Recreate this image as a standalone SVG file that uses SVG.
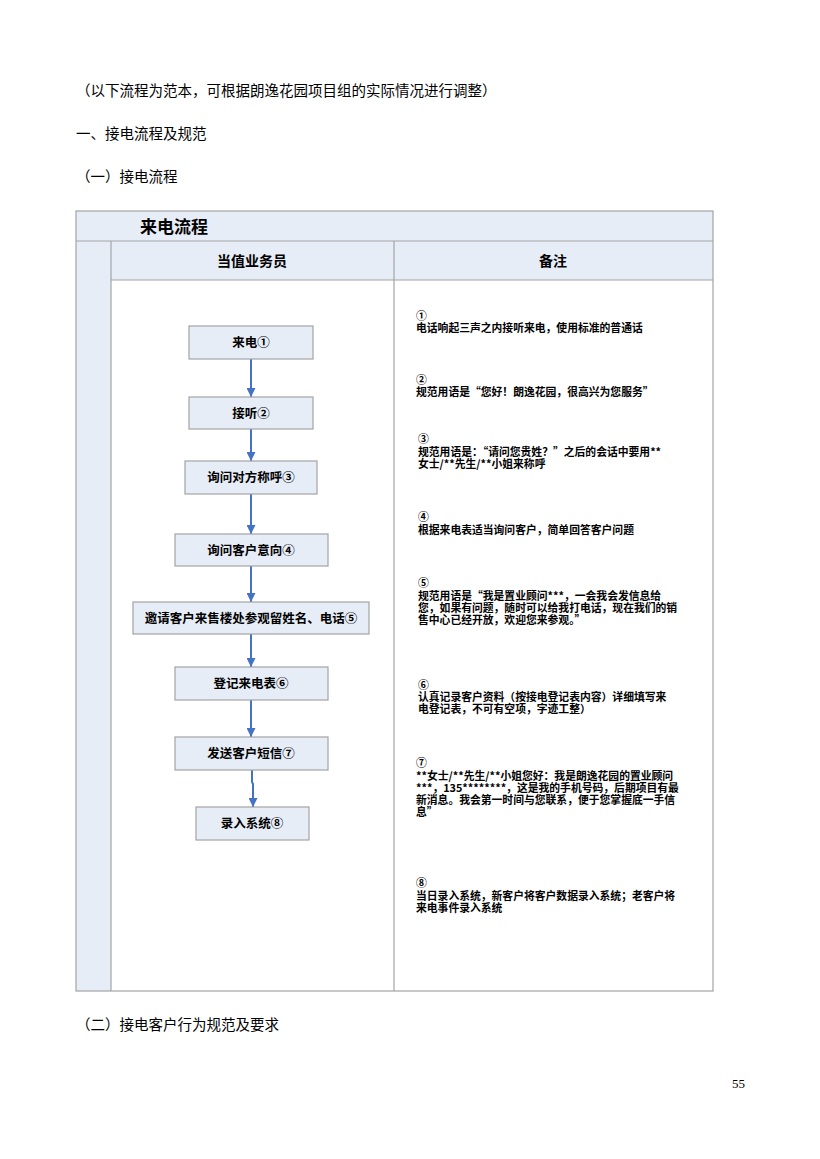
<svg xmlns="http://www.w3.org/2000/svg" width="820" height="1159" viewBox="0 0 820 1159">
<style>
.page{font-family:"Noto Sans CJK SC","Noto Sans CJK JP",sans-serif;font-size:14.5px;fill:#000}
.cell{fill:#E7EDF7;stroke:none}
.grid{stroke:#A3A3A3;stroke-width:1.2;fill:none}
.ttl{font-family:"Noto Sans CJK SC",sans-serif;font-weight:bold;font-size:17px;fill:#000}
.hdr{font-family:"Noto Sans CJK SC",sans-serif;font-weight:bold;font-size:14px;fill:#000;text-anchor:middle}
.box{fill:#E7EDF7;stroke:#A3A3A3;stroke-width:1.2}
.lbl{font-family:"Noto Sans CJK SC",sans-serif;font-weight:bold;font-size:12.5px;fill:#000;text-anchor:middle}
.note{font-family:"Noto Sans CJK SC",sans-serif;font-weight:bold;font-size:10.8px;fill:#000}
.arr{stroke:#4472C4;stroke-width:2;fill:none}
</style>
<defs>
<marker id="ah" viewBox="0 0 10 10" refX="10" refY="5" markerWidth="9" markerHeight="9" markerUnits="userSpaceOnUse" orient="auto">
<path d="M0,0 L10,5 L0,10 z" fill="#4472C4"/>
</marker>
</defs>
<rect width="820" height="1159" fill="#fff"/>

<text class="page" x="76" y="96">（以下流程为范本，可根据朗逸花园项目组的实际情况进行调整）</text>
<text class="page" x="76" y="139">一、接电流程及规范</text>
<text class="page" x="76" y="182">（一）接电流程</text>

<g id="table">
<rect class="cell" x="76" y="211" width="637" height="30"/>
<rect class="cell" x="76" y="241" width="35" height="750"/>
<rect class="cell" x="111" y="241" width="602" height="39"/>
<rect class="grid" x="76" y="211" width="637" height="780"/>
<line class="grid" x1="76" y1="241" x2="713" y2="241"/>
<line class="grid" x1="111" y1="280" x2="713" y2="280"/>
<line class="grid" x1="111" y1="241" x2="111" y2="991"/>
<line class="grid" x1="394" y1="241" x2="394" y2="991"/>
<text class="ttl" x="140" y="233">来电流程</text>
<text class="hdr" x="252" y="266">当值业务员</text>
<text class="hdr" x="553" y="266">备注</text>
</g>

<g id="connectors">
<line class="arr" x1="251" y1="359" x2="251" y2="397" marker-end="url(#ah)"/>
<line class="arr" x1="251" y1="429" x2="251" y2="461" marker-end="url(#ah)"/>
<line class="arr" x1="251" y1="494" x2="251" y2="534" marker-end="url(#ah)"/>
<line class="arr" x1="251" y1="566" x2="251" y2="602" marker-end="url(#ah)"/>
<line class="arr" x1="251" y1="634" x2="251" y2="667" marker-end="url(#ah)"/>
<line class="arr" x1="251" y1="700" x2="251" y2="737" marker-end="url(#ah)"/>
<path class="arr" d="M252,770 L252,782 L253,784 L253,807" marker-end="url(#ah)"/>
</g>

<g id="n1"><rect class="box" x="189" y="326" width="124" height="33"/><text class="lbl" x="251" y="347">来电①</text></g>
<g id="n2"><rect class="box" x="189" y="397" width="124" height="32"/><text class="lbl" x="251" y="417.5">接听②</text></g>
<g id="n3"><rect class="box" x="185" y="461" width="132" height="33"/><text class="lbl" x="251" y="482">询问对方称呼③</text></g>
<g id="n4"><rect class="box" x="175" y="534" width="153" height="32"/><text class="lbl" x="251" y="554.5">询问客户意向④</text></g>
<g id="n5"><rect class="box" x="133" y="602" width="236" height="32"/><text class="lbl" x="251" y="622.5">邀请客户来售楼处参观留姓名、电话⑤</text></g>
<g id="n6"><rect class="box" x="175" y="667" width="153" height="33"/><text class="lbl" x="251" y="688">登记来电表⑥</text></g>
<g id="n7"><rect class="box" x="175" y="737" width="153" height="33"/><text class="lbl" x="251" y="758">发送客户短信⑦</text></g>
<g id="n8"><rect class="box" x="196" y="807" width="113" height="33"/><text class="lbl" x="252" y="828">录入系统⑧</text></g>

<g id="notes">
<text class="note" x="416" y="320">①<tspan x="416" y="332">电话响起三声之内接听来电，使用标准的普通话</tspan></text>
<text class="note" x="416" y="384">②<tspan x="416" y="396">规范用语是“您好！朗逸花园，很高兴为您服务”</tspan></text>
<text class="note" x="418" y="443">③<tspan x="418" y="456">规范用语是：“请问您贵姓？”之后的会话中要用**</tspan><tspan x="418" y="468">女士/**先生/**小姐来称呼</tspan></text>
<text class="note" x="418" y="521">④<tspan x="418" y="534">根据来电表适当询问客户，简单回答客户问题</tspan></text>
<text class="note" x="418" y="587">⑤<tspan x="418" y="600">规范用语是“我是置业顾问***，一会我会发信息给</tspan><tspan x="418" y="612">您，如果有问题，随时可以给我打电话，现在我们的销</tspan><tspan x="418" y="624">售中心已经开放，欢迎您来参观。”</tspan></text>
<text class="note" x="418" y="689">⑥<tspan x="418" y="701">认真记录客户资料（按接电登记表内容）详细填写来</tspan><tspan x="418" y="713">电登记表，不可有空项，字迹工整）</tspan></text>
<text class="note" x="416" y="767">⑦<tspan x="416" y="780">**女士/**先生/**小姐您好：我是朗逸花园的置业顾问</tspan><tspan x="416" y="792">***，135********，这是我的手机号码，后期项目有最</tspan><tspan x="416" y="804">新消息。我会第一时间与您联系，便于您掌握底一手信</tspan><tspan x="416" y="816">息”</tspan></text>
<text class="note" x="416" y="887">⑧<tspan x="416" y="900">当日录入系统，新客户将客户数据录入系统；老客户将</tspan><tspan x="416" y="912">来电事件录入系统</tspan></text>
</g>

<text class="page" x="76" y="1030">（二）接电客户行为规范及要求</text>
<text x="745" y="1088" text-anchor="end" font-family="Liberation Serif, serif" font-size="13" fill="#000">55</text>
</svg>
